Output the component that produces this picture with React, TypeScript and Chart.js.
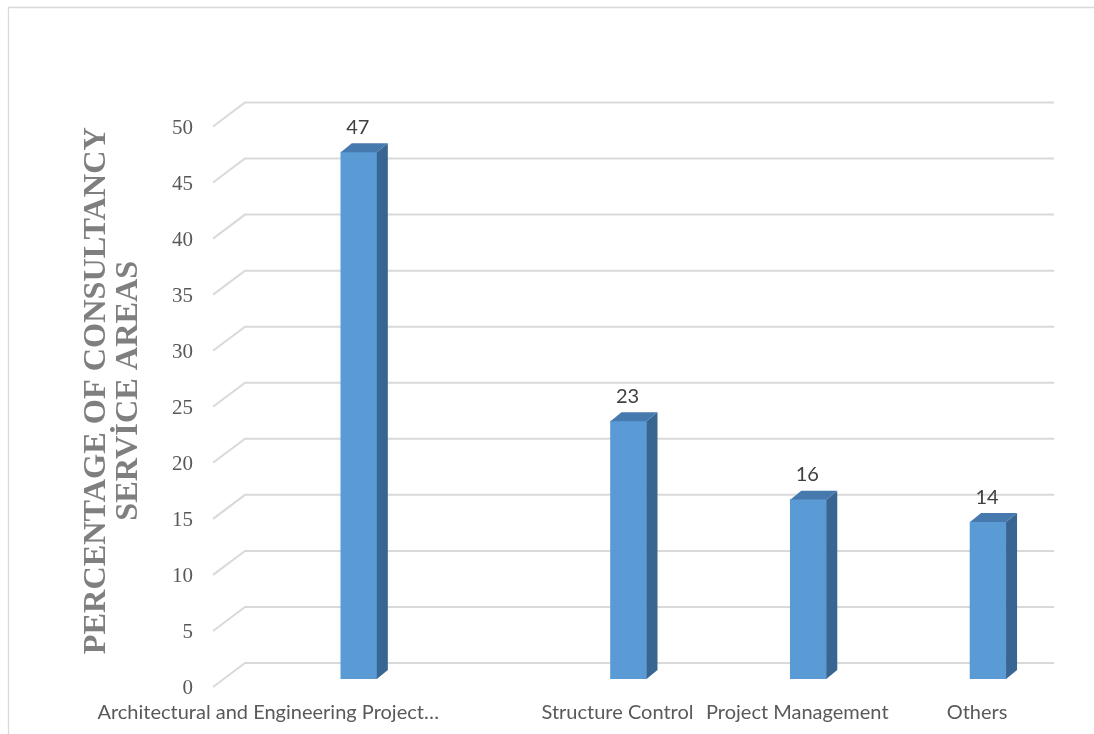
import { useEffect, useRef } from "react";
import { Chart, registerables } from "chart.js";

Chart.register(...registerables);

// ---- data ----
const categories = [
  "Architectural and Engineering Project…",
  "Structure Control",
  "Project Management",
  "Others",
];
const values = [47, 23, 16, 14];
// Excel placed the bars on an evenly spaced 9-slot category axis
const slotCount = 9;
const barSlots = [1, 4, 6, 8];
const labelSlots = [0, 4, 6, 8];
const yMin = 0;
const yMax = 50;
const yStep = 5;
const yTitle = ["  PERCENTAGE OF CONSULTANCY", "  SERVİCE AREAS"];

// ---- derived tables ----
const slotNames: string[] = Array.from({ length: slotCount }, () => "");
const slotValues: (number | null)[] = Array.from({ length: slotCount }, () => null);
const slotTickText: string[] = Array.from({ length: slotCount }, () => "");
categories.forEach((c, i) => {
  slotNames[barSlots[i]] = c;
  slotValues[barSlots[i]] = values[i];
  slotTickText[labelSlots[i]] = (labelSlots[i] === 0 ? "    " : "") + c;
});

const DEPTH_X = 11;
const DEPTH_Y = 9;

const decorPlugin = {
  id: "decor3d",
  beforeDraw(chart: any) {
    const ctx = chart.ctx;
    ctx.save();
    ctx.strokeStyle = "#d9d9d9";
    ctx.lineWidth = 1.3;
    ctx.beginPath();
    ctx.moveTo(8.5, chart.height);
    ctx.lineTo(8.5, 7.5);
    ctx.lineTo(chart.width, 7.5);
    ctx.stroke();
    ctx.restore();
  },
  beforeDatasetsDraw(chart: any) {
    const ctx = chart.ctx;
    const ys = chart.scales.y;
    const area = chart.chartArea;
    ctx.save();
    ctx.strokeStyle = "#d9d9d9";
    ctx.lineWidth = 2;
    for (let v = yMin; v <= yMax; v += yStep) {
      const yb = ys.getPixelForValue(v);
      const fx = area.left - 11;
      const fy = yb + 8;
      const bx = area.left + 21;
      const by = yb - 16;
      ctx.beginPath();
      ctx.moveTo(fx, fy);
      ctx.lineTo(bx, by);
      ctx.lineTo(area.right + 21, by);
      ctx.stroke();
    }
    ctx.restore();
  },
  afterDatasetsDraw(chart: any) {
    const ctx = chart.ctx;
    const meta = chart.getDatasetMeta(0);
    ctx.save();
    meta.data.forEach((el: any, i: number) => {
      const v = slotValues[i];
      if (v == null) return;
      const { x, y, base, width } = el.getProps(["x", "y", "base", "width"], true);
      const l = x - width / 2;
      const r = x + width / 2;
      // side
      ctx.fillStyle = "#386591";
      ctx.beginPath();
      ctx.moveTo(r, y);
      ctx.lineTo(r + DEPTH_X, y - DEPTH_Y);
      ctx.lineTo(r + DEPTH_X, base - DEPTH_Y);
      ctx.lineTo(r, base);
      ctx.closePath();
      ctx.fill();
      // top
      ctx.fillStyle = "#4679AE";
      ctx.beginPath();
      ctx.moveTo(l, y);
      ctx.lineTo(l + DEPTH_X, y - DEPTH_Y);
      ctx.lineTo(r + DEPTH_X, y - DEPTH_Y);
      ctx.lineTo(r, y);
      ctx.closePath();
      ctx.fill();
      // value label
      ctx.fillStyle = "#404040";
      ctx.font = "20px Lato";
      ctx.textAlign = "center";
      ctx.textBaseline = "middle";
      ctx.fillText(String(v), x - 1, y - 25);
    });
    ctx.restore();
  },
};

export default function App() {
  const ref = useRef<HTMLCanvasElement | null>(null);
  useEffect(() => {
    if (!ref.current) return;
    const chart = new Chart(ref.current, {
      type: "bar",
      data: {
        labels: slotNames,
        datasets: [
          {
            data: slotValues,
            backgroundColor: "#5B9BD5",
            borderWidth: 0,
            barThickness: 36,
          },
        ],
      },
      options: {
        animation: false,
        responsive: true,
        maintainAspectRatio: false,
        layout: { padding: { left: 0, top: 118.5, right: 61, bottom: 0 } },
        plugins: { legend: { display: false }, tooltip: { enabled: false } },
        scales: {
          x: {
            grid: { display: false, drawTicks: false },
            border: { display: false },
            ticks: {
              autoSkip: false,
              maxRotation: 0,
              minRotation: 0,
              padding: 22,
              labelOffset: -11,
              color: "#595959",
              font: { family: "Lato", size: 20 },
              callback: (_v: any, i: number) => slotTickText[i],
            },
            afterFit: (s: any) => {
              s.height = 55;
            },
          },
          y: {
            min: yMin,
            max: yMax,
            grid: { display: false, drawTicks: false },
            border: { display: false },
            ticks: {
              stepSize: yStep,
              padding: 31,
              labelOffset: 9.5,
              color: "#595959",
              font: { family: "Liberation Serif", size: 21 },
            },
            title: {
              display: true,
              text: yTitle,
              color: "#7f7f7f",
              padding: { top: 80, bottom: 0 },
              font: { family: "Liberation Serif", size: 32.3, weight: "bold", lineHeight: 1.0 },
            },
            afterFit: (s: any) => {
              s.width = 224;
            },
          },
        },
      },
      plugins: [decorPlugin],
    });
    return () => chart.destroy();
  }, []);
  return (
    <div style={{ position: "fixed", left: 0, top: 0, width: 1094, height: 734, background: "#fff" }}>
      <canvas ref={ref} />
    </div>
  );
}
